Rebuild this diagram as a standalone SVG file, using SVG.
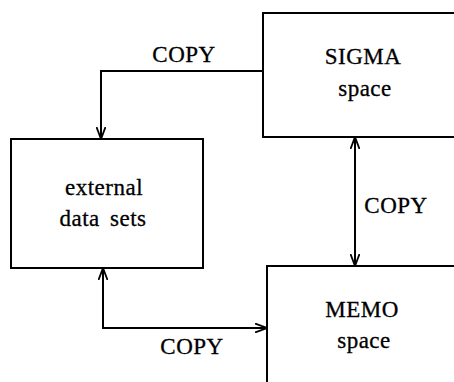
<svg xmlns="http://www.w3.org/2000/svg" width="454" height="382" viewBox="0 0 454 382">
<style>
.box{fill:none;stroke:#000;stroke-width:2}
.con{fill:none;stroke:#000;stroke-width:2}
text{font-family:"Liberation Serif","Times New Roman",serif;font-size:23px;fill:#000;text-anchor:middle;letter-spacing:0.5px;stroke:#000;stroke-width:0.3}
</style>
<defs>
<marker id="ah" viewBox="0 0 12 10" refX="12" refY="5" markerWidth="12" markerHeight="10" markerUnits="userSpaceOnUse" orient="auto-start-reverse">
<path d="M0,0.5 L12,5 L0,9.5" fill="none" stroke="#000" stroke-width="1.8"/>
</marker>
</defs>
<rect width="454" height="382" fill="#fff"/>
<g id="sigma">
<path class="box" d="M456,13 H263 V137 H456"/>
<text x="363" y="64">SIGMA</text>
<text x="365" y="96">space</text>
</g>
<g id="external">
<rect class="box" x="11" y="139" width="192" height="129"/>
<text x="104" y="195">external</text>
<text x="103" y="226" style="word-spacing:4px">data sets</text>
</g>
<g id="memo">
<path class="box" d="M456,266 H267 V384"/>
<text x="362" y="317">MEMO</text>
<text x="364" y="348">space</text>
</g>
<g id="connectors">
<path class="con" d="M263,71 H101 V139" marker-end="url(#ah)"/>
<path class="con" d="M355,137 V266" marker-start="url(#ah)" marker-end="url(#ah)"/>
<path class="con" d="M103,268 V328 H267" marker-start="url(#ah)" marker-end="url(#ah)"/>
<text x="184" y="62">COPY</text>
<text x="396" y="213">COPY</text>
<text x="192" y="354">COPY</text>
</g>
</svg>
